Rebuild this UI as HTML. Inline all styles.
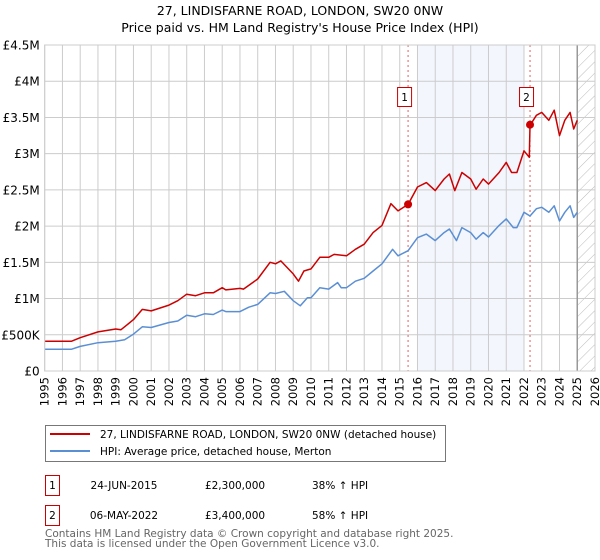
<!DOCTYPE html>
<html><head><meta charset="utf-8">
<style>
body{margin:0;background:#fff;}
svg{display:block;font-family:"DejaVu Sans","Liberation Sans",sans-serif;}
</style></head>
<body>
<svg id="c" width="600" height="560" viewBox="0 0 600 560">
<text x="300" y="15" text-anchor="middle" font-size="12.5" fill="#000">27, LINDISFARNE ROAD, LONDON, SW20 0NW</text>
<text x="300" y="32" text-anchor="middle" font-size="12.5" fill="#000">Price paid vs. HM Land Registry's House Price Index (HPI)</text>
<g id="plot"></g>
<g>
<rect x="45.5" y="425.5" width="400" height="36" fill="#fff" stroke="#777"/>
<line x1="50" y1="434" x2="90" y2="434" stroke="#cc0000" stroke-width="2"/>
<text x="100" y="438" font-size="10.5">27, LINDISFARNE ROAD, LONDON, SW20 0NW (detached house)</text>
<line x1="50" y1="451" x2="90" y2="451" stroke="#5b8fd4" stroke-width="2"/>
<text x="100" y="455" font-size="10.5">HPI: Average price, detached house, Merton</text>
</g>
<g font-size="10.5">
<rect x="45.5" y="475.5" width="14" height="20" fill="#fff" stroke="#cc0000"/>
<text x="52.5" y="489" text-anchor="middle">1</text>
<text x="124" y="489" text-anchor="middle">24-JUN-2015</text>
<text x="235" y="489" text-anchor="middle">£2,300,000</text>
<text x="312" y="489">38% ↑ HPI</text>
<rect x="45.5" y="505.5" width="14" height="20" fill="#fff" stroke="#cc0000"/>
<text x="52.5" y="519" text-anchor="middle">2</text>
<text x="124" y="519" text-anchor="middle">06-MAY-2022</text>
<text x="235" y="519" text-anchor="middle">£3,400,000</text>
<text x="312" y="519">58% ↑ HPI</text>
</g>
<text x="45" y="537" font-size="10.5" fill="#666">Contains HM Land Registry data © Crown copyright and database right 2025.</text>
<text x="45" y="547" font-size="10.5" fill="#666">This data is licensed under the Open Government Licence v3.0.</text>
</svg>
<script>
const yTicks=[0,0.5,1,1.5,2,2.5,3,3.5,4,4.5];
const yTickLabels=["£0","£500K","£1M","£1.5M","£2M","£2.5M","£3M","£3.5M","£4M","£4.5M"];
const xYears=[1995,1996,1997,1998,1999,2000,2001,2002,2003,2004,2005,2006,2007,2008,2009,2010,2011,2012,2013,2014,2015,2016,2017,2018,2019,2020,2021,2022,2023,2024,2025,2026];
const propT=[1995,1996,1996.5,1997,1998,1999,1999.3,2000,2000.5,2001,2002,2002.5,2003,2003.5,2004,2004.5,2005,2005.2,2006,2006.2,2007,2007.7,2008,2008.3,2009,2009.3,2009.6,2010,2010.5,2011,2011.3,2012,2012.5,2013,2013.5,2014,2014.5,2014.9,2015.47,2016,2016.5,2017,2017.5,2017.8,2018.1,2018.5,2019,2019.3,2019.7,2020,2020.6,2021,2021.3,2021.6,2022,2022.3,2022.34,2022.7,2023,2023.4,2023.7,2024,2024.3,2024.6,2024.8,2025];
const propV=[0.41,0.41,0.41,0.46,0.54,0.58,0.57,0.71,0.85,0.83,0.91,0.97,1.06,1.04,1.08,1.08,1.15,1.12,1.14,1.13,1.27,1.50,1.48,1.52,1.34,1.24,1.38,1.41,1.57,1.57,1.61,1.59,1.68,1.75,1.91,2.01,2.31,2.21,2.30,2.54,2.60,2.49,2.65,2.72,2.49,2.74,2.65,2.51,2.65,2.58,2.74,2.88,2.74,2.74,3.04,2.95,3.39,3.53,3.57,3.46,3.60,3.25,3.46,3.57,3.34,3.46];
const hpiT=[1995,1996,1996.5,1997,1998,1999,1999.5,2000,2000.5,2001,2002,2002.5,2003,2003.5,2004,2004.5,2005,2005.2,2006,2006.5,2007,2007.7,2008,2008.5,2009,2009.4,2009.8,2010,2010.5,2011,2011.5,2011.7,2012,2012.5,2013,2013.5,2014,2014.6,2014.9,2015.47,2016,2016.5,2017,2017.5,2017.8,2018.2,2018.5,2019,2019.3,2019.7,2020,2020.6,2021,2021.4,2021.6,2022,2022.34,2022.7,2023,2023.4,2023.7,2024,2024.3,2024.6,2024.8,2025];
const hpiV=[0.30,0.30,0.30,0.34,0.39,0.41,0.43,0.51,0.61,0.60,0.67,0.69,0.77,0.75,0.79,0.78,0.84,0.82,0.82,0.88,0.92,1.08,1.07,1.10,0.97,0.90,1.01,1.01,1.15,1.13,1.22,1.15,1.15,1.24,1.28,1.38,1.48,1.68,1.59,1.66,1.84,1.89,1.80,1.91,1.96,1.80,1.98,1.91,1.82,1.91,1.85,2.01,2.10,1.98,1.98,2.19,2.14,2.24,2.26,2.19,2.28,2.07,2.19,2.28,2.12,2.19];
const saleT=[2015.47,2022.34];
const saleV=[2.30,3.40];
const saleLabels=["1","2"];
const shadeRange=[2016,2022];
const NS="http://www.w3.org/2000/svg";
const X0=44.7,X1=595,Y0=371,Y1=45;
const x=t=>X0+(t-1995)/(2026-1995)*(X1-X0);
const y=v=>Y0-v/4.5*(Y0-Y1);
const g=document.getElementById('plot');
function mk(tag,attrs){const e=document.createElementNS(NS,tag);for(const k in attrs)e.setAttribute(k,attrs[k]);g.appendChild(e);return e;}
let e;
e=mk('rect',{x:x(shadeRange[0]),y:Y1,width:x(shadeRange[1])-x(shadeRange[0]),height:Y0-Y1,fill:'#f3f6fd'});


const defs=document.createElementNS(NS,'defs');
defs.innerHTML='<pattern id="hatch" width="8" height="8" patternUnits="userSpaceOnUse" patternTransform="rotate(45)"><line x1="0" y1="0" x2="0" y2="8" stroke="#bbb" stroke-width="1"/></pattern>';
g.appendChild(defs);
e=mk('rect',{x:x(2025),y:Y1,width:X1-x(2025),height:Y0-Y1,fill:'url(#hatch)'});


xYears.forEach(t=>{
 e=mk('line',{x1:x(t),x2:x(t),y1:Y1,y2:Y0,stroke:'#ccc','stroke-width':1});
 
 
 e=mk('text',{x:0,y:0,'font-size':11.5,'text-anchor':'end',transform:`translate(${x(t)+4},${Y0+6}) rotate(-90)`});
 e.textContent=t;
 
 
});
yTicks.forEach((v,i)=>{
 e=mk('line',{x1:X0,x2:X1,y1:y(v),y2:y(v),stroke:'#ccc','stroke-width':1});
 
 
 e=mk('text',{x:X0-5,y:y(v)+4.5,'font-size':12,'text-anchor':'end'});
 e.textContent=yTickLabels[i];
 
 
});
e=mk('line',{x1:x(2025),x2:x(2025),y1:Y1,y2:Y0,stroke:'#999','stroke-width':1.5});


saleT.forEach((t,i)=>{
 e=mk('line',{x1:x(t),x2:x(t),y1:Y1,y2:Y0,stroke:'#e06060','stroke-width':1,'stroke-dasharray':'2,3'});
 
 
});
function path(T,V,col,name){
 const d=T.map((t,i)=>(i?'L':'M')+x(t).toFixed(1)+','+y(V[i]).toFixed(1)).join('');
 e=mk('path',{d:d,fill:'none',stroke:col,'stroke-width':1.5,'stroke-linejoin':'round'});
 
 
}
path(hpiT,hpiV,'#5b8fd4','hpi-line');
path(propT,propV,'#cc0000','property-line');
saleT.forEach((t,i)=>{
 e=mk('circle',{cx:x(t),cy:y(saleV[i]),r:4,fill:'#cc0000'});
 
 
 e=mk('rect',{x:x(t)-10.5,y:87.5,width:14,height:19,fill:'#fff',stroke:'#cc0000'});
 
 
 e=mk('text',{x:x(t)-3.5,y:101,'font-size':10.5,'text-anchor':'middle'});
 e.textContent=saleLabels[i];
 
 
});
e=mk('rect',{x:X0,y:Y1,width:X1-X0,height:Y0-Y1,fill:'none',stroke:'#ccc'});


</script>
</body></html>
